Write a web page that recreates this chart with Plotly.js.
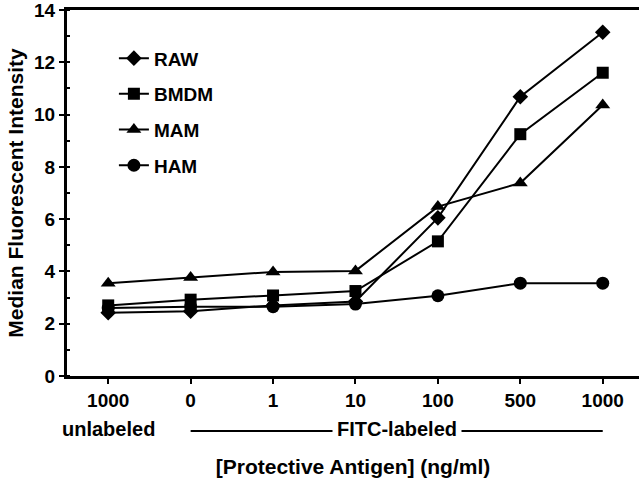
<!DOCTYPE html>
<html>
<head>
<meta charset="utf-8">
<script src="https://cdn.plot.ly/plotly-3.0.1.min.js"></script>
<style>html,body{margin:0;padding:0;background:#fff;overflow:hidden;}#chart{width:639px;height:478px;}</style>
</head>
<body>
<div id="chart"></div>
<script>
const categories = ["1000 (unlabeled)", "0", "1", "10", "100", "500", "1000"];
const tickLabels = ["1000", "0", "1", "10", "100", "500", "1000"];
const seriesNames = ["RAW", "BMDM", "MAM", "HAM"];
const raw  = [2.42, 2.48, 2.70, 2.85, 6.05, 10.68, 13.15];
const bmdm = [2.70, 2.92, 3.08, 3.25, 5.15, 9.25, 11.60];
const mam  = [3.55, 3.77, 3.98, 4.02, 6.48, 7.38, 10.37];
const ham  = [2.60, 2.65, 2.65, 2.75, 3.07, 3.55, 3.55];
const groupLabels = ["unlabeled", "FITC-labeled"];

const symbols = ["diamond", "square", "triangle-up", "circle"];
const sizes = [12, 12, 13, 13];
const allSeries = [raw, bmdm, mam, ham];
const xIdx = categories.map((c, i) => i);

const FONT = "Liberation Sans, Arial, sans-serif";

const traces = allSeries.map((vals, k) => ({
  type: "scatter",
  mode: "lines+markers",
  name: seriesNames[k],
  legendgroup: seriesNames[k],
  x: xIdx,
  y: vals,
  line: {color: "#000", width: 2},
  marker: {symbol: symbols[k], size: sizes[k], color: "#000"}
}));

const layout = {
  width: 639,
  height: 478,
  margin: {l: 67, r: 0, t: 10, b: 102},
  paper_bgcolor: "#fff",
  plot_bgcolor: "#fff",
  font: {family: FONT, color: "#000", size: 19, weight: "bold"},
  showlegend: true,
  legend: {
    x: 0.082, y: 0.92, xanchor: "left", yanchor: "top",
    bgcolor: "rgba(0,0,0,0)",
    font: {family: FONT, size: 19, color: "#000", weight: "bold"},
    traceorder: "grouped",
    tracegroupgap: 8,
    itemwidth: 30
  },
  xaxis: {
    range: [-0.5, 6.44],
    tickmode: "array",
    tickvals: xIdx,
    ticktext: tickLabels,
    ticks: "outside",
    ticklen: 5,
    tickwidth: 2,
    tickcolor: "#000",
    showline: true,
    linewidth: 3,
    linecolor: "#000",
    mirror: true,
    showgrid: false,
    zeroline: false,
    tickfont: {family: FONT, size: 19, color: "#000", weight: "bold"},
    title: {text: "[Protective Antigen] (ng/ml)", standoff: 50,
            font: {family: FONT, size: 21, color: "#000", weight: "bold"}},
    automargin: false
  },
  yaxis: {
    range: [0, 14],
    tickmode: "linear",
    tick0: 0,
    dtick: 2,
    ticks: "outside",
    ticklen: 5,
    tickwidth: 2,
    tickcolor: "#000",
    ticklabeloverflow: "allow",
    minor: {dtick: 1, ticks: "inside", ticklen: 3, tickwidth: 2, tickcolor: "#000"},
    showline: true,
    linewidth: 3,
    linecolor: "#000",
    showgrid: false,
    zeroline: false,
    tickfont: {family: FONT, size: 19, color: "#000", weight: "bold"},
    title: {text: "Median Fluorescent Intensity", standoff: 5,
            font: {family: FONT, size: 21, color: "#000", weight: "bold"}},
    automargin: false
  },
  annotations: [
    {x: 0, y: -0.145, xref: "x", yref: "paper", text: groupLabels[0], showarrow: false,
     font: {family: FONT, size: 20, color: "#000", weight: "bold"}, xanchor: "center", yanchor: "middle"},
    {x: 3.5, y: -0.145, xref: "x", yref: "paper", text: groupLabels[1], showarrow: false,
     font: {family: FONT, size: 20, color: "#000", weight: "bold"}, xanchor: "center", yanchor: "middle",
     bgcolor: "#fff", borderpad: 4}
  ],
  shapes: [
    {type: "line", xref: "x", yref: "paper", x0: 1, x1: 6, y0: -0.15, y1: -0.15,
     line: {color: "#000", width: 2}, layer: "below"}
  ]
};

Plotly.newPlot("chart", traces, layout, {displayModeBar: false, staticPlot: true});
</script>
</body>
</html>
